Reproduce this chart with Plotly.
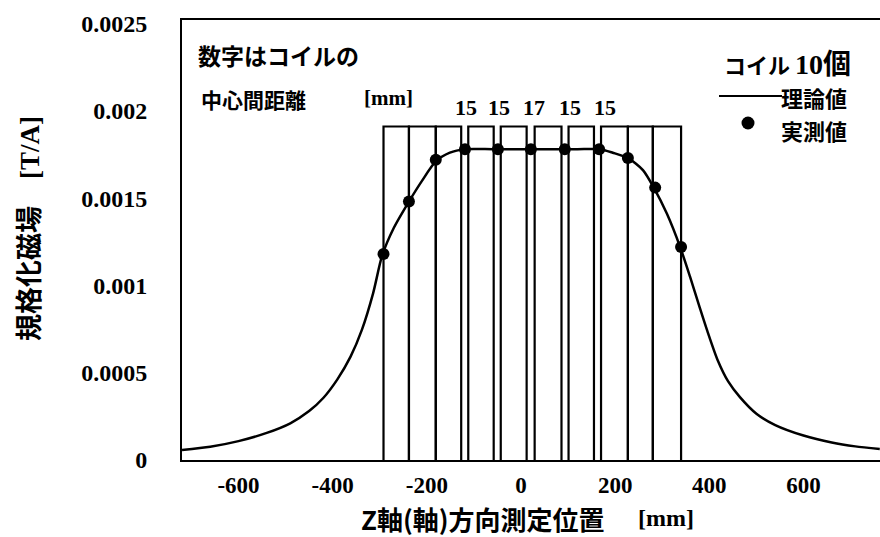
import plotly.graph_objects as go

# Theoretical normalized field along the axis of the 10-coil array
z_theory = [-720, -660, -600, -540, -490, -450, -420, -390, -362, -338, -314,
            -295, -270, -238, -210, -181, -151, -119, -60, 0, 60, 120, 168,
            195, 227, 259, 282, 310, 338, 359, 380, 395, 418, 440, 465, 500,
            540, 600, 660, 710, 762]
b_theory = [0.000057, 0.000076, 0.000108, 0.000155, 0.000210, 0.000280,
            0.000355, 0.000462, 0.000592, 0.000745, 0.000956, 0.00117,
            0.00133, 0.00148, 0.00160, 0.00171, 0.00176, 0.00178, 0.00178,
            0.00178, 0.00178, 0.00178, 0.00178, 0.00176, 0.00173, 0.00166,
            0.00156, 0.00141, 0.00122, 0.00105, 0.00087, 0.000745, 0.000570,
            0.000450, 0.000360, 0.000265, 0.000200, 0.000140, 0.000100,
            0.000078, 0.000063]

# Measured values
z_meas = [-292, -238, -181, -119, -49, 21, 93, 166, 227, 285, 340]
b_meas = [0.00118, 0.00148, 0.00172, 0.00178, 0.00178, 0.00178, 0.00178,
          0.00178, 0.00173, 0.00156, 0.00122]

# Coil outlines (left/right edges in mm)
coil_left = [-292, -238, -181, -112, -43, 29, 101, 170, 227, 280]
coil_right = [-238, -181, -127, -58, 12, 86, 155, 227, 280, 340]
coil_top = 0.00191

# Coil spacing labels
spacing_text = ["15", "15", "17", "15", "15"]
spacing_x = [-117, -46, 27, 104, 179]
spacing_y = 0.00202

x_ticks = [-600, -400, -200, 0, 200, 400, 600]
x_tick_text = ["-600", "-400", "-200", "0", "200", "400", "600"]
y_ticks = [0, 0.0005, 0.001, 0.0015, 0.002, 0.0025]
y_tick_text = ["0", "0.0005", "0.001", "0.0015", "0.002", "0.0025"]

SERIF = "Liberation Serif, Noto Sans CJK JP"
CJK = "Noto Sans CJK JP"

fig = go.Figure()

# coil rectangles
rx, ry = [], []
for l, r in zip(coil_left, coil_right):
    rx += [l, l, r, r, None]
    ry += [0, coil_top, coil_top, 0, None]
fig.add_trace(go.Scatter(x=rx, y=ry, mode="lines",
                         line=dict(color="black", width=2.2),
                         hoverinfo="skip", showlegend=False))

fig.add_trace(go.Scatter(x=z_theory, y=b_theory, mode="lines",
                         line=dict(color="black", width=2.5, shape="spline",
                                   smoothing=0.7),
                         name="理論値", showlegend=False))

fig.add_trace(go.Scatter(x=z_meas, y=b_meas, mode="markers",
                         marker=dict(color="black", size=12),
                         name="実測値", showlegend=False))

annotations = []
for t, x in zip(spacing_text, spacing_x):
    annotations.append(dict(x=x, y=spacing_y, xref="x", yref="y", text=t,
                            showarrow=False, yanchor="middle",
                            font=dict(family=SERIF, size=22, color="black",
                                      weight="bold")))


def px_x(p):
    return (p - 182) / 698


def px_y(p):
    return (460 - p) / 440


def label(x, y, text, size, family=CJK, xanchor="left", angle=0):
    return dict(x=px_x(x), y=px_y(y), xref="paper", yref="paper", text=text,
                xanchor=xanchor, yanchor="middle", showarrow=False,
                textangle=angle, align="left",
                font=dict(family=family, size=size, color="black",
                          weight="bold"))


annotations += [
    label(196, 55, "数字はコイルの", 23),
    label(199, 99, "中心間距離", 21),
    label(362, 98, "[mm]", 21, family=SERIF),
    label(722, 62, "コイル <span style='font-family:Liberation Serif;"
                   "font-size:28px'>10</span><span style='font-size:28px'>個</span>",
          22),
    # legend texts
    label(779, 97, "理論値", 22),
    label(779, 130, "実測値", 22),
    label(359, 518, "Z軸(軸)方向測定位置", 26),
    label(636, 518, "[mm]", 24, family=SERIF),
    label(27, 229, "規格化磁場　<span style='font-family:Liberation Serif'>[T/A]</span>",
          27, xanchor="center", angle=-90),
]

shapes = [
    # legend key: line
    dict(type="line", xref="paper", yref="paper",
         x0=px_x(719), x1=px_x(782), y0=px_y(96), y1=px_y(96),
         line=dict(color="black", width=2)),
    # legend key: dot
    dict(type="circle", xref="paper", yref="paper",
         xsizemode="pixel", ysizemode="pixel",
         xanchor=px_x(748), yanchor=px_y(123),
         x0=-6.5, x1=6.5, y0=-6.5, y1=6.5,
         fillcolor="black", line=dict(color="black", width=0)),
]

fig.update_layout(
    width=880, height=537,
    margin=dict(l=182, r=0, t=20, b=77),
    plot_bgcolor="white", paper_bgcolor="white",
    annotations=annotations, shapes=shapes,
    showlegend=False,
)

fig.update_xaxes(range=[-720, 762.5], tickvals=x_ticks, ticktext=x_tick_text,
                 showgrid=False, zeroline=False,
                 showline=True, linecolor="black", linewidth=2, mirror=True,
                 ticks="", ticklabelstandoff=3,
                 tickfont=dict(family=SERIF, size=23, color="black",
                               weight="bold"))
fig.update_yaxes(range=[0, 0.00252], tickvals=y_ticks, ticktext=y_tick_text,
                 showgrid=False, zeroline=False,
                 showline=True, linecolor="black", linewidth=2,
                 ticks="", ticklabelstandoff=28,
                 tickfont=dict(family=SERIF, size=24, color="black",
                               weight="bold"))

fig.write_html("out.html")
